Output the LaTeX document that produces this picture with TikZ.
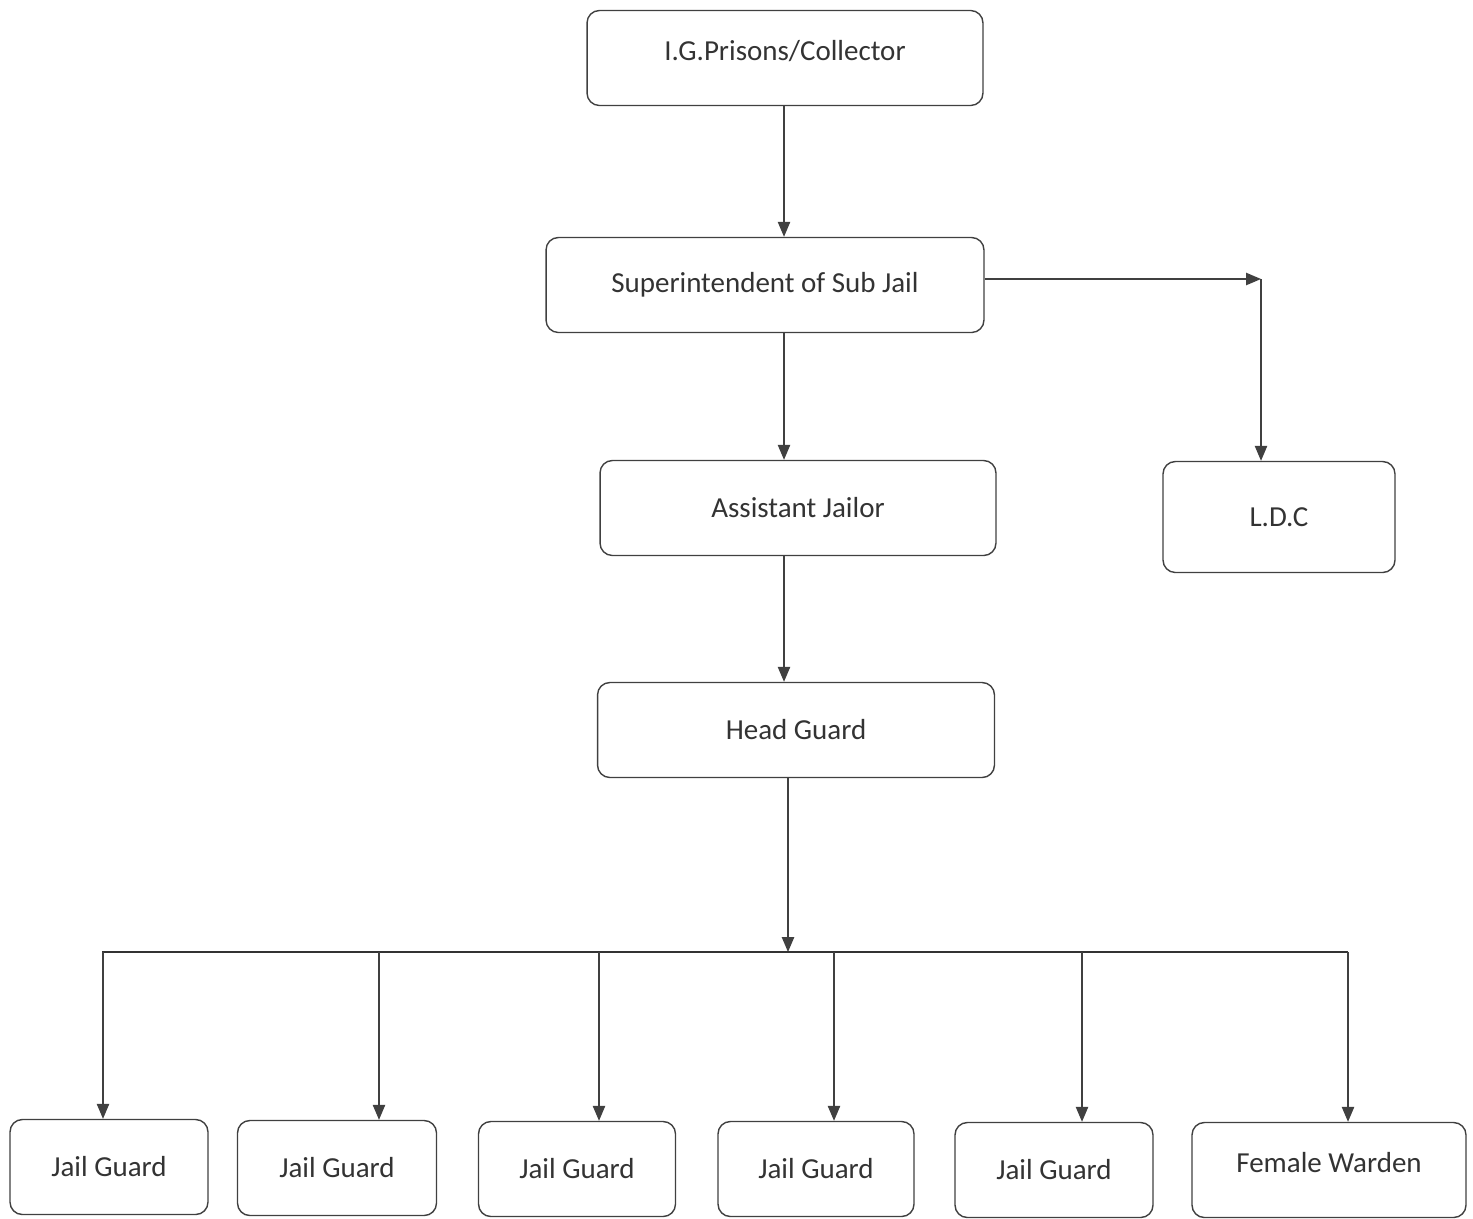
\documentclass[tikz,border=0pt]{standalone}
\usepackage{fontspec}
\setmainfont{Carlito}
\usetikzlibrary{arrows.meta}

\begin{document}
\begin{tikzpicture}[x=0.02cm, y=-0.02cm, line width=0.8pt, color=black!75,
  post/.style={draw, rounded corners=7pt, minimum height=1.9cm, text=black!80,
    font=\fontsize{16.5}{19}\selectfont},
  raised/.style={text depth=0.3cm},
  link/.style={-{Triangle[length=8.5pt, width=7pt]}},
  bus/.style={line width=1.4pt, color=black!80}]
  \useasboundingbox (0,0) rectangle (1473,1218);
  % upper chain
  \node[post, raised, minimum width=7.92cm] (ig) at (785,58) {I.G.Prisons/Collector};
  \node[post, minimum width=8.76cm] (sup) at (765,285) {Superintendent of Sub Jail};
  \node[post, minimum width=7.92cm] (aj) at (798,508) {Assistant Jailor};
  \node[post, minimum width=7.94cm] (hg) at (796,730) {Head Guard};
  \node[post, minimum width=4.64cm, minimum height=2.22cm] (ldc) at (1279,517) {L.D.C};
  % bottom row
  \node[post, minimum width=3.96cm] (jg1) at (109,1167) {Jail Guard};
  \node[post, minimum width=3.98cm] (jg2) at (337,1168) {Jail Guard};
  \node[post, minimum width=3.94cm] (jg3) at (577,1169) {Jail Guard};
  \node[post, minimum width=3.92cm] (jg4) at (816,1169) {Jail Guard};
  \node[post, minimum width=3.96cm] (jg5) at (1054,1170) {Jail Guard};
  \node[post, raised, minimum width=5.48cm] (fw) at (1329,1170) {Female Warden};
  % spine and bus
  \coordinate (spine) at (784,0);
  \coordinate (turn) at (1261,279);
  \coordinate (busL) at (102,952);
  \coordinate (busR) at (1348,952);
  \coordinate (busM) at (788,952);
  \draw[link] (ig.south -| spine) -- (sup.north -| spine);
  \draw[link] (sup.south -| spine) -- (aj.north -| spine);
  \draw[link] (aj.south -| spine) -- (hg.north -| spine);
  \draw[link] (hg.south -| busM) -- (busM);
  \draw[link] (sup.east |- turn) -- (turn);
  \draw[link] (turn) -- (turn |- ldc.north);
  \draw[bus] (busL) -- (busR);
  \foreach \x/\n in {103/jg1, 379/jg2, 599/jg3, 834/jg4, 1082/jg5, 1348/fw} {
    \coordinate (tap) at (\x,952);
    \draw[link] (tap) -- (tap |- \n.north);
  }
\end{tikzpicture}
\end{document}
